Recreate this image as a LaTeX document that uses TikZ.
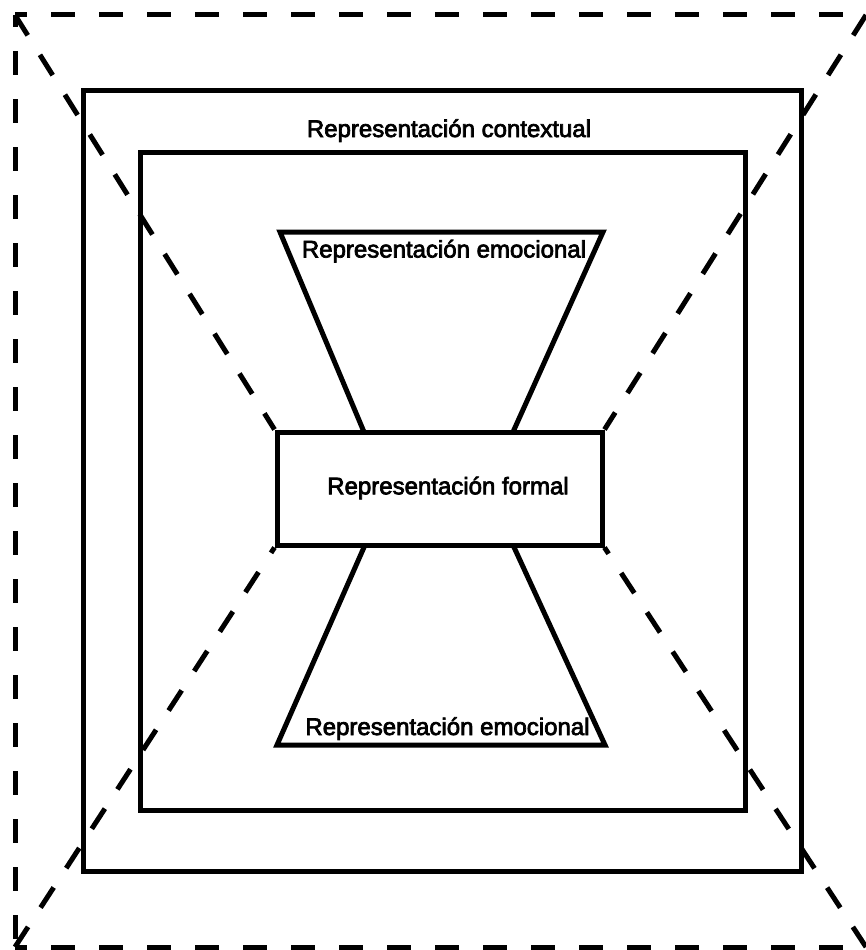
\documentclass[tikz,border=0pt]{standalone}
\usepackage{fontspec}
\setmainfont{Liberation Sans}
\newfontfamily\rotulofont[FakeBold=3]{Liberation Sans}
\usetikzlibrary{positioning}

\begin{document}
\begin{tikzpicture}[x=1pt, y=-1pt, line width=5pt,
		caja/.style={draw, rectangle, inner sep=0pt},
		marco/.style={dash pattern=on 24pt off 24pt, dash phase=12pt},
		guia/.style={dash pattern=on 24pt off 23pt},
		rotulo/.style={anchor=base, inner sep=0pt, font=\rotulofont\fontsize{24}{28}\selectfont}]
		\useasboundingbox (0,0) rectangle (866,950);
		
		\node[caja, minimum width=718pt, minimum height=781pt] (contexto) at (442,480.5) {};
		\node[caja, minimum width=605pt, minimum height=658pt] (interior) at (442.5,481) {};
		\node[caja, minimum width=325pt, minimum height=113pt] (formal) at (439.5,488.5) {};
		
		\coordinate (esqA) at (15,15);
		\coordinate (esqB) at (866,15);
		\coordinate (esqC) at (15,947);
		\coordinate (esqD) at (866,947);
		\coordinate (bordeB) at (870,15);
		\coordinate (bordeD) at (870,947);
		
		\coordinate (emoA1) at (280,232);
		\coordinate (emoA2) at (603,232);
		\coordinate (emoA3) at (364,432);
		\coordinate (emoA4) at (513,432);
		\coordinate (emoB1) at (365,545);
		\coordinate (emoB2) at (513,545);
		\coordinate (emoB3) at (277,745);
		\coordinate (emoB4) at (605,745);
		
		\draw[line join=miter] (emoA3) -- (emoA1) -- (emoA2) -- (emoA4);
		\draw[line join=miter] (emoB1) -- (emoB3) -- (emoB4) -- (emoB2);
		
		\draw[marco] (esqA) -- (bordeB);
		\draw[marco] (esqA) -- (esqC);
		\draw[marco] (esqC) -- (bordeD);
		\draw[marco] (bordeB) -- (bordeD);
		
		\draw[guia] (esqA) -- (formal.north west);
		\draw[guia] (esqB) -- (formal.north east);
		\draw[guia] (esqC) -- (formal.south west);
		\draw[guia] (esqD) -- (formal.south east);
		
		\node[rotulo] (tcontexto) at (449,137) {Representación contextual};
		\node[rotulo] (temoA) at (444,257.5) {Representación emocional};
		\node[rotulo] (tformal) at (448,494.3) {Representación formal};
		\node[rotulo] (temoB) at (447.5,735) {Representación emocional};
\end{tikzpicture}
\end{document}
